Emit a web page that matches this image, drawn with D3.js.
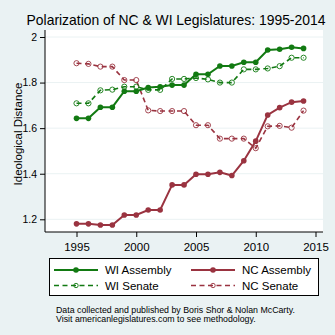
<!DOCTYPE html>
<html>
<head>
<meta charset="utf-8">
<script src="https://cdn.jsdelivr.net/npm/d3@7"></script>
<style>
  html, body { margin: 0; padding: 0; background: #eaf2f3; }
  svg { display: block; font-family: "Liberation Sans", Arial, sans-serif; }
</style>
</head>
<body>
<svg id="chart" width="335" height="335"></svg>
<script>
// Legislative polarization scores by chamber, 1995-2014
const years = d3.range(1995, 2015);
const wiAssembly = [1.643, 1.643, 1.692, 1.692, 1.762, 1.762, 1.778, 1.782, 1.789, 1.789,
                    1.836, 1.836, 1.873, 1.873, 1.889, 1.889, 1.943, 1.946, 1.955, 1.950];
const wiSenate   = [1.709, 1.709, 1.766, 1.769, 1.782, 1.782, 1.768, 1.768, 1.816, 1.816,
                    1.820, 1.814, 1.800, 1.800, 1.858, 1.858, 1.862, 1.872, 1.909, 1.909];
const ncAssembly = [1.180, 1.180, 1.175, 1.175, 1.219, 1.219, 1.241, 1.241, 1.351, 1.351,
                    1.398, 1.398, 1.406, 1.392, 1.457, 1.543, 1.658, 1.690, 1.714, 1.719];
const ncSenate   = [1.885, 1.882, 1.870, 1.870, 1.811, 1.811, 1.678, 1.675, 1.675, 1.675,
                    1.613, 1.613, 1.554, 1.554, 1.554, 1.512, 1.608, 1.610, 1.602, 1.677];
const xTicks = [1995, 2000, 2005, 2010, 2015];
const yTicks = [1.2, 1.4, 1.6, 1.8, 2];

const green = "#127a12";
const red = "#9a3340";

const series = [
  { name: "WI Assembly", values: wiAssembly, color: green, dashed: false },
  { name: "NC Assembly", values: ncAssembly, color: red,   dashed: false },
  { name: "WI Senate",   values: wiSenate,   color: green, dashed: true },
  { name: "NC Senate",   values: ncSenate,   color: red,   dashed: true }
];

const svg = d3.select("#chart");
const plot = { left: 45, right: 323, top: 30, bottom: 232 };

const x = d3.scaleLinear().domain([1995, 2015]).range([76.5, 315.5]);
const y = d3.scaleLinear().domain([1.2, 2]).range([219.3, 37]);

// plot region
svg.append("rect")
  .attr("x", plot.left).attr("y", plot.top)
  .attr("width", plot.right - plot.left).attr("height", plot.bottom - plot.top)
  .attr("fill", "#ffffff");

// horizontal gridlines
svg.append("g").selectAll("line").data(yTicks).join("line")
  .attr("x1", plot.left).attr("x2", plot.right)
  .attr("y1", d => y(d)).attr("y2", d => y(d))
  .attr("stroke", "#eaf2f3").attr("stroke-width", 1);

// title
svg.append("text")
  .attr("x", 176).attr("y", 24.5)
  .attr("text-anchor", "middle")
  .attr("font-size", 13.9)
  .attr("fill", "#000")
  .text("Polarization of NC & WI Legislatures: 1995-2014");

// axes
const yAxis = d3.axisLeft(y).tickValues(yTicks).tickSize(5).tickPadding(3)
  .tickFormat(d => d3.format("")(d));
const gy = svg.append("g").attr("transform", `translate(${plot.left},0)`).call(yAxis);
gy.select(".domain").attr("d", `M0,${plot.top}V${plot.bottom}`).attr("stroke", "#000");
gy.selectAll(".tick line").attr("stroke", "#000");
gy.selectAll(".tick text").attr("font-size", 10.5).attr("fill", "#000")
  .attr("font-family", "Liberation Sans, Arial, sans-serif");

const xAxis = d3.axisBottom(x).tickValues(xTicks).tickSize(5).tickPadding(6)
  .tickFormat(d3.format("d"));
const gx = svg.append("g").attr("transform", `translate(0,${plot.bottom})`).call(xAxis);
gx.select(".domain").attr("d", `M${plot.left},0H${plot.right}`).attr("stroke", "#000");
gx.selectAll(".tick line").attr("stroke", "#000");
gx.selectAll(".tick text").attr("font-size", 11.5).attr("fill", "#000")
  .attr("font-family", "Liberation Sans, Arial, sans-serif");

svg.append("text")
  .attr("transform", `translate(22,${(plot.top + plot.bottom) / 2 + 3}) rotate(-90)`)
  .attr("text-anchor", "middle")
  .attr("font-size", 11.5)
  .text("Ideological Distance");

// series
const line = d3.line().x((d, i) => x(years[i])).y(d => y(d));
const drawOrder = [series[3], series[2], series[1], series[0]];
drawOrder.forEach(s => {
  const g = svg.append("g");
  g.append("path")
    .attr("d", line(s.values))
    .attr("fill", "none")
    .attr("stroke", s.color)
    .attr("stroke-width", s.dashed ? 1.6 : 2)
    .attr("stroke-dasharray", s.dashed ? "5,3.5" : null);
  g.selectAll("circle").data(s.values).join("circle")
    .attr("cx", (d, i) => x(years[i]))
    .attr("cy", d => y(d))
    .attr("r", s.dashed ? 2.6 : 2.8)
    .attr("fill", s.dashed ? "none" : s.color)
    .attr("stroke", s.color)
    .attr("stroke-width", s.dashed ? 0.9 : 0);
});

// legend
const legend = svg.append("g");
legend.append("rect")
  .attr("x", 49.5).attr("y", 258.5).attr("width", 269).attr("height", 37)
  .attr("fill", "#fff").attr("stroke", "#000").attr("stroke-width", 1);
const legendPos = [
  { s: series[0], lx: 54, ly: 270 },
  { s: series[1], lx: 191, ly: 270 },
  { s: series[2], lx: 54, ly: 285.5 },
  { s: series[3], lx: 191, ly: 285.5 }
];
legendPos.forEach(p => {
  legend.append("line")
    .attr("x1", p.lx).attr("x2", p.lx + 44)
    .attr("y1", p.ly).attr("y2", p.ly)
    .attr("stroke", p.s.color)
    .attr("stroke-width", p.s.dashed ? 1.6 : 2)
    .attr("stroke-dasharray", p.s.dashed ? "5,3.5" : null);
  legend.append("circle")
    .attr("cx", p.lx + 22).attr("cy", p.ly)
    .attr("r", p.s.dashed ? 2.2 : 2.8)
    .attr("fill", p.s.dashed ? "none" : p.s.color)
    .attr("stroke", p.s.color)
    .attr("stroke-width", p.s.dashed ? 0.9 : 0);
  legend.append("text")
    .attr("x", p.lx + 51).attr("y", p.ly + 4.2)
    .attr("font-size", 11.5)
    .text(p.s.name);
});

// source note
const note = svg.append("g").attr("font-size", 8.8);
note.append("text").attr("x", 56).attr("y", 312.5)
  .text("Data collected and published by Boris Shor & Nolan McCarty.");
note.append("text").attr("x", 56).attr("y", 321.8)
  .text("Visit americanlegislatures.com to see methodology.");
</script>
</body>
</html>
